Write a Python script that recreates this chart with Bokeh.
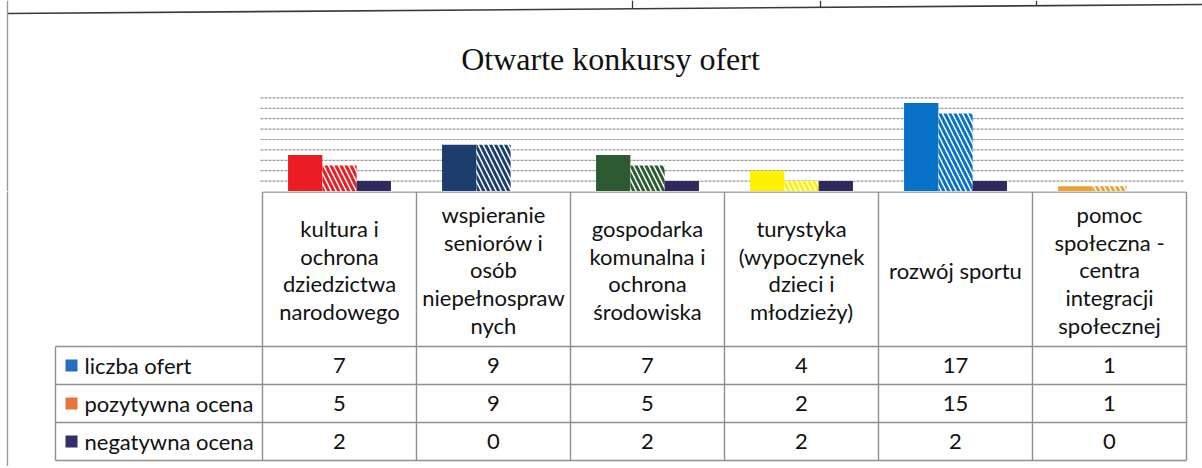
from bokeh.plotting import figure
from bokeh.layouts import column
from bokeh.models import Range1d
from bokeh.core.properties import value
from bokeh.embed import file_html
from bokeh.resources import INLINE

# ---------------- data ----------------
title = "Otwarte konkursy ofert"
categories = [
    "kultura i\nochrona\ndziedzictwa\nnarodowego",
    "wspieranie\nseniorów i\nosób\nniepełnospraw\nnych",
    "gospodarka\nkomunalna i\nochrona\nśrodowiska",
    "turystyka\n(wypoczynek\ndzieci i\nmłodzieży)",
    "rozwój sportu",
    "pomoc\nspołeczna -\ncentra\nintegracji\nspołecznej",
]
series = ["liczba ofert", "pozytywna ocena", "negatywna ocena"]
liczba_ofert = [7, 9, 7, 4, 17, 1]
pozytywna_ocena = [5, 9, 5, 2, 15, 1]
negatywna_ocena = [2, 0, 2, 2, 2, 0]
y_ticks = [2, 4, 6, 8, 10, 12, 14, 16, 18]

# ---------------- styles ----------------
point_colors = ["#EC1C24", "#1C3E6C", "#2D5A30", "#FFF200", "#0872C9", "#F0A032"]
series_colors = ["#2370C0", "#E8743A", "#342E68"]
neg_color = "#2F2A5E"
text_color = "#111111"
table_line = "#8f8f8f"
doc_line = "#3a3a3a"
FONT = "Lato"

# ---------------- geometry (pixels) ----------------
W = 1202
P_H = 191
T_H = 275
COL_LEFT = 262
COL_W = 154.0
PX_Y = 5.2
HEADER_H = 155
ROW_H = 38

n = len(categories)
x_start = -COL_LEFT / COL_W
x_end = (W - COL_LEFT) / COL_W


def px_x(px):
    return (px - COL_LEFT) / COL_W


def px_y(py):
    return (P_H - py) / PX_Y


xr = Range1d(x_start, x_end)
y_top = P_H / PX_Y

# ---------------- chart ----------------
p = figure(width=W, height=P_H, x_range=xr, y_range=Range1d(0, y_top),
           x_axis_type=None, y_axis_type=None, toolbar_location=None,
           output_backend="svg", min_border=0, outline_line_color=None)

p.segment(x0=[px_x(260)] * len(y_ticks), x1=[px_x(1184)] * len(y_ticks),
          y0=y_ticks, y1=y_ticks, line_color="#9a9a9a", line_width=1.2,
          line_dash="3 1")

bw = 34.3 / COL_W
xs = [i + 0.5 for i in range(n)]
p.vbar(x=[x - bw for x in xs], top=liczba_ofert, width=bw,
       fill_color=point_colors, line_color=None)
p.vbar(x=xs, top=pozytywna_ocena, width=bw, fill_color="white",
       hatch_pattern="\\", hatch_color=point_colors, hatch_scale=10,
       hatch_weight=3, line_color=None)
p.vbar(x=[x + bw for x in xs], top=negatywna_ocena, width=bw,
       fill_color=neg_color, line_color=None)

p.text(x=[px_x(610)], y=[px_y(58)], text=[title],
       text_align="center", text_baseline="alphabetic",
       text_font=value("Liberation Serif"), text_font_size="32px",
       text_color=text_color)

# scanned document frame (bottom edge of the previous table, slightly skewed)
p.segment(x0=[px_x(7)], x1=[x_end], y0=[px_y(13)], y1=[px_y(4)],
          line_color=doc_line, line_width=1.6)
p.segment(x0=[px_x(x) for x in (632, 820, 1036)], x1=[px_x(x) for x in (632, 820, 1036)],
          y0=[px_y(8.3), px_y(6.9), px_y(5.3)], y1=[y_top] * 3,
          line_color=doc_line, line_width=1.3)
p.segment(x0=[px_x(7)], x1=[px_x(7)], y0=[0], y1=[y_top],
          line_color="#9a9a9a", line_width=1.4)

# ---------------- data table ----------------
t = figure(width=W, height=T_H, x_range=xr, y_range=Range1d(T_H, 0),
           x_axis_type=None, y_axis_type=None, toolbar_location=None,
           output_backend="svg", min_border=0, outline_line_color=None)

leg_left = px_x(55)
bottom = HEADER_H + ROW_H * len(series)
bounds = list(range(n + 1))
t.segment(x0=bounds, x1=bounds, y0=[0.5] * len(bounds), y1=[bottom] * len(bounds),
          line_color=table_line, line_width=1.4)
t.segment(x0=[leg_left], x1=[leg_left], y0=[HEADER_H], y1=[bottom],
          line_color=table_line, line_width=1.4)
t.segment(x0=[0], x1=[n], y0=[0.5], y1=[0.5], line_color=table_line, line_width=1.4)
row_lines = [HEADER_H + ROW_H * k for k in range(len(series) + 1)]
t.segment(x0=[leg_left] * len(row_lines), x1=[n] * len(row_lines),
          y0=row_lines, y1=row_lines, line_color=table_line, line_width=1.4)
t.segment(x0=[px_x(7)], x1=[px_x(7)], y0=[0], y1=[T_H],
          line_color="#9a9a9a", line_width=1.4)

t.text(x=xs, y=[HEADER_H / 2 + 1] * n, text=categories, text_align="center",
       text_baseline="middle", text_font=value(FONT), text_font_size="22px",
       text_line_height=1.02, text_color=text_color)

row_centers = [HEADER_H + ROW_H * k + ROW_H / 2 for k in range(len(series))]
t.rect(x=[px_x(71)] * len(series), y=row_centers, width=12 / COL_W, height=12,
       fill_color=series_colors, line_color=None)
t.text(x=[px_x(84)] * len(series), y=row_centers, text=series,
       text_align="left", text_baseline="middle", text_font=value(FONT),
       text_font_size="22px", text_color=text_color)

for vals, yc in zip([liczba_ofert, pozytywna_ocena, negatywna_ocena], row_centers):
    t.text(x=xs, y=[yc] * n, text=[str(v) for v in vals], text_align="center",
           text_baseline="middle", text_font=value(FONT), text_font_size="22px",
           text_color=text_color)

layout = column(p, t)
open("out.html", "w").write(file_html(layout, INLINE))
